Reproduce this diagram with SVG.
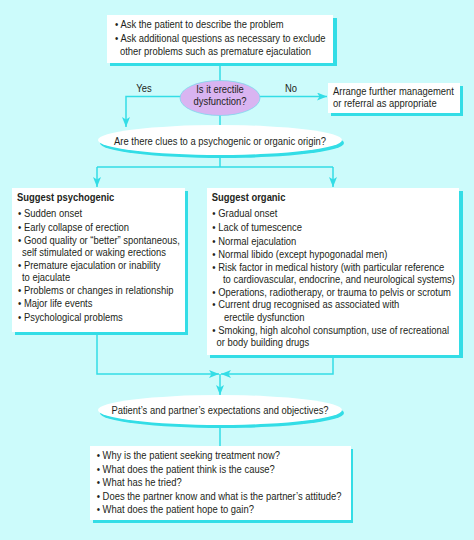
<svg xmlns="http://www.w3.org/2000/svg" width="474" height="540" viewBox="0 0 474 540">
<style>
text{font-family:"Liberation Sans",Arial,sans-serif;font-size:11.5px;fill:#231f20}
.b{font-weight:bold}
.m{text-anchor:middle}
.box{fill:#ffffff}
.sh{fill:#33dde6}
.ln{fill:none;stroke:#33dde6;stroke-width:1.5}
</style>
<defs>
<marker id="ah" viewBox="0 0 10 8" markerWidth="10" markerHeight="8" refX="10" refY="4" orient="auto" markerUnits="userSpaceOnUse">
<path d="M0,0 L10,4 L0,8 L2.5,4 z" fill="#33dde6"/>
</marker>
</defs>
<rect x="0" y="0" width="474" height="540" fill="#ccfbfb"/>

<g id="connectors">
<path class="ln" d="M220,63 V81"/>
<path class="ln" d="M220,114 V126"/>
<path class="ln" d="M181,96.5 H126 V127" marker-end="url(#ah)"/>
<path class="ln" d="M259,96.5 H327" marker-end="url(#ah)"/>
<path class="ln" d="M220,155 V167"/>
<path class="ln" d="M97,167 H333"/>
<path class="ln" d="M97,167 V187" marker-end="url(#ah)"/>
<path class="ln" d="M333,167 V187" marker-end="url(#ah)"/>
<path class="ln" d="M97,332 V374 H219" marker-end="url(#ah)"/>
<path class="ln" d="M333,355 V374 H221" marker-end="url(#ah)"/>
<path class="ln" d="M220,374 V395" marker-end="url(#ah)"/>
<path class="ln" d="M220,425 V446"/>
<text x="144" y="92" class="m" transform="translate(144,0) scale(0.82,1) translate(-144,0)">Yes</text>
<text x="291" y="92" class="m" transform="translate(291,0) scale(0.82,1) translate(-291,0)">No</text>
</g>

<g id="start">
<rect class="sh" x="110" y="18" width="227" height="48"/>
<rect class="box" x="107" y="15" width="226" height="48"/>
<g transform="translate(115,0) scale(0.82,1)">
<text x="0" y="28.5">• Ask the patient to describe the problem</text>
<text x="0" y="42">• Ask additional questions as necessary to exclude</text>
<text x="6.1" y="55.5">other problems such as premature ejaculation</text>
</g>
</g>

<g id="is-ed">
<ellipse cx="220" cy="98" rx="40" ry="17.5" fill="#d9b4f1" stroke="#7fd6ee" stroke-width="0.8"/>
<g transform="translate(220,0) scale(0.82,1)">
<text class="m" x="0" y="93">Is it erectile</text>
<text class="m" x="0" y="105.5">dysfunction?</text>
</g>
</g>

<g id="referral">
<rect class="sh" x="331" y="86" width="132" height="30"/>
<rect class="box" x="328" y="83" width="132" height="30"/>
<g transform="translate(333,0) scale(0.82,1)">
<text x="0" y="95">Arrange further management</text>
<text x="0" y="107.5">or referral as appropriate</text>
</g>
</g>

<g id="clues">
<ellipse class="sh" cx="222" cy="143" rx="122" ry="15"/>
<ellipse class="box" cx="220" cy="140" rx="122" ry="15"/>
<g transform="translate(220,0) scale(0.82,1)">
<text class="m" x="0" y="145">Are there clues to a psychogenic or organic origin?</text>
</g>
</g>

<g id="psychogenic">
<rect class="sh" x="15" y="191" width="173" height="144"/>
<rect class="box" x="12" y="188" width="173" height="144"/>
<g transform="translate(17,0) scale(0.82,1)">
<text class="b" x="0" y="201.5">Suggest psychogenic</text>
<text x="1.2" y="217.5">• Sudden onset</text>
<text x="1.2" y="231">• Early collapse of erection</text>
<text x="1.2" y="244">• Good quality or “better” spontaneous,</text>
<text x="6.1" y="256.5">self stimulated or waking erections</text>
<text x="1.2" y="269">• Premature ejaculation or inability</text>
<text x="6.1" y="281.5">to ejaculate</text>
<text x="1.2" y="294">• Problems or changes in relationship</text>
<text x="1.2" y="307.5">• Major life events</text>
<text x="1.2" y="321">• Psychological problems</text>
</g>
</g>

<g id="organic">
<rect class="sh" x="210" y="191" width="253" height="167"/>
<rect class="box" x="207" y="188" width="252" height="167"/>
<g transform="translate(211.7,0) scale(0.82,1)">
<text class="b" x="0" y="201.5">Suggest organic</text>
<text x="0.8" y="217.5">• Gradual onset</text>
<text x="0.8" y="231.5">• Lack of tumescence</text>
<text x="0.8" y="245">• Normal ejaculation</text>
<text x="0.8" y="258">• Normal libido (except hypogonadal men)</text>
<text x="0.8" y="271">• Risk factor in medical history (with particular reference</text>
<text x="13.8" y="283.5">to cardiovascular, endocrine, and neurological systems)</text>
<text x="0.8" y="296">• Operations, radiotherapy, or trauma to pelvis or scrotum</text>
<text x="0.8" y="308.5">• Current drug recognised as associated with</text>
<text x="15" y="321">erectile dysfunction</text>
<text x="0.8" y="334">• Smoking, high alcohol consumption, use of recreational</text>
<text x="6" y="346.5">or body building drugs</text>
</g>
</g>

<g id="expectations">
<ellipse class="sh" cx="222" cy="413" rx="122" ry="15"/>
<ellipse class="box" cx="220" cy="410" rx="122" ry="15"/>
<g transform="translate(220,0) scale(0.82,1)">
<text class="m" x="0" y="414">Patient’s and partner’s expectations and objectives?</text>
</g>
</g>

<g id="questions">
<rect class="sh" x="93" y="449" width="260" height="74"/>
<rect class="box" x="90" y="446" width="261" height="74"/>
<g transform="translate(96.7,0) scale(0.82,1)">
<text x="0" y="459">• Why is the patient seeking treatment now?</text>
<text x="0" y="473">• What does the patient think is the cause?</text>
<text x="0" y="486.5">• What has he tried?</text>
<text x="0" y="500">• Does the partner know and what is the partner’s attitude?</text>
<text x="0" y="513.5">• What does the patient hope to gain?</text>
</g>
</g>
</svg>
